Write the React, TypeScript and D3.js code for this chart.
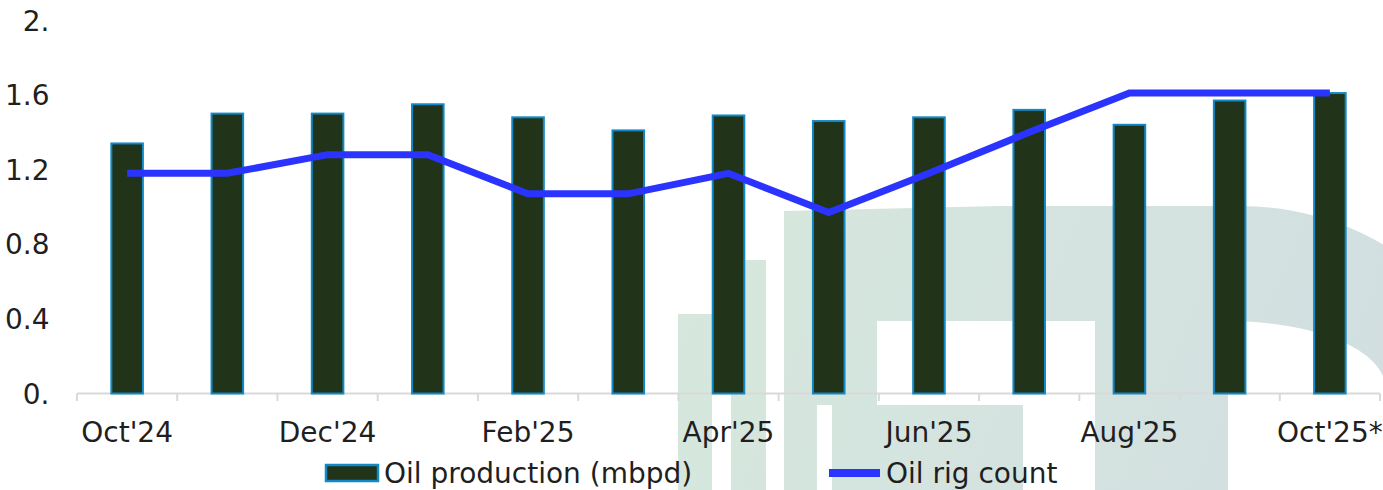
import React from "react";
import * as d3 from "d3";

const categories = ["Oct'24","Nov'24","Dec'24","Jan'25","Feb'25","Mar'25","Apr'25","May'25","Jun'25","Jul'25","Aug'25","Sep'25","Oct'25*"];
const labeledCategories = ["Oct'24","Dec'24","Feb'25","Apr'25","Jun'25","Aug'25","Oct'25*"];
const oilProduction = [1.34,1.50,1.50,1.55,1.48,1.41,1.49,1.46,1.48,1.52,1.44,1.57,1.61];
const oilRigCount = [1.18,1.18,1.28,1.28,1.07,1.07,1.18,0.97,1.18,1.40,1.61,1.61,1.61];
const yTicks = [0, 0.4, 0.8, 1.2, 1.6, 2.0];
const yTickLabels = ["0.", "0.4", "0.8", "1.2", "1.6", "2."];
const seriesNames = ["Oil production (mbpd)", "Oil rig count"];

const W = 1383;
const H = 490;
const FONT = "'DejaVu Sans', sans-serif";

export default function App() {
  const x = d3.scaleBand<string>().domain(categories).range([77, 1380]).paddingInner(0).paddingOuter(0);
  const y = d3.scaleLinear().domain([0, 2]).range([393.5, 20.3]);
  const bw = x.bandwidth();
  const barW = bw * 0.315;
  const line = d3.line<number>()
    .x((_, i) => (x(categories[i]) as number) + bw / 2)
    .y((d) => y(d));
  const tickXs = categories.map((c) => x(c) as number).concat([77 + bw * categories.length]);

  const wm = "M784,211 L1000,206 L1240,206 A260,234 0 0 1 1500,440 L1385,387 A157,66 0 0 0 1228,321 L1228,490 L1095,490 L1095,321 L877,321 L877,405 L1023,405 L1023,490 L832,490 L832,405 L817,405 L817,490 L784,490 Z";

  return (
    <svg width={W} height={H} style={{ position: "fixed", left: 0, top: 0, background: "#fff" }} fontFamily={FONT}>
      <defs>
        <linearGradient id="wmg" gradientUnits="userSpaceOnUse" x1="680" y1="200" x2="1383" y2="490">
          <stop offset="0" stopColor="#d6e8dd" />
          <stop offset="1" stopColor="#d2dee1" />
        </linearGradient>
      </defs>
      <rect x={0} y={0} width={W} height={H} fill="#fff" />
      {/* watermark */}
      <g fill="url(#wmg)">
        <rect x={678} y={314} width={34} height={176} />
        <rect x={731} y={260} width={35} height={230} />
        <path d={wm} />
      </g>
      {/* x axis */}
      <line x1={77} x2={1380} y1={393.5} y2={393.5} stroke="#d9d9d9" strokeWidth={2} />
      {tickXs.map((tx, i) => (
        <line key={i} x1={tx} x2={tx} y1={393.5} y2={401} stroke="#d9d9d9" strokeWidth={2} />
      ))}
      {/* bars */}
      {oilProduction.map((v, i) => {
        const cx = (x(categories[i]) as number) + bw / 2;
        return (
          <rect key={i} x={cx - barW / 2} y={y(v)} width={barW} height={y(0) - y(v)}
            fill="#213318" stroke="#1189c6" strokeWidth={2} />
        );
      })}
      {/* line */}
      <path d={line(oilRigCount) || ""} fill="none" stroke="#2b34ff" strokeWidth={7} strokeLinejoin="miter" strokeLinecap="butt" />
      {/* y labels */}
      {yTicks.map((t, i) => (
        <text key={i} x={49.5} y={y(t) + 10.2} textAnchor="end" fontSize={28} fill="#1f1f1f">{yTickLabels[i]}</text>
      ))}
      {/* x labels */}
      {labeledCategories.map((c) => (
        <text key={c} x={(x(c) as number) + bw / 2} y={442} textAnchor="middle" fontSize={28} fill="#1f1f1f">{c}</text>
      ))}
      {/* legend */}
      <rect x={326} y={465} width={52} height={16} fill="#213318" stroke="#1189c6" strokeWidth={2.5} />
      <text x={384} y={483} fontSize={28} fill="#1f1f1f">{seriesNames[0]}</text>
      <line x1={829} x2={880} y1={473} y2={473} stroke="#2b34ff" strokeWidth={8} />
      <text x={886} y={483} fontSize={28} fill="#1f1f1f">{seriesNames[1]}</text>
    </svg>
  );
}
